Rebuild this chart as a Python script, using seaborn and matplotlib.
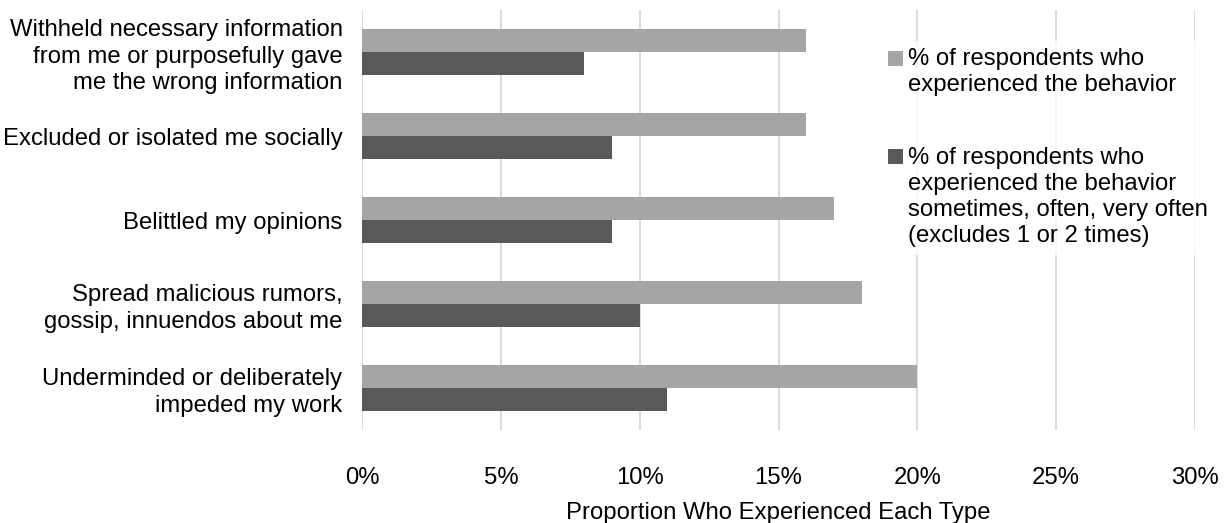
import matplotlib
matplotlib.use("Agg")
import matplotlib.pyplot as plt
import matplotlib.patches as mpatches
from matplotlib.legend_handler import HandlerPatch
import seaborn as sns
import pandas as pd
from matplotlib.ticker import PercentFormatter

categories = [
    "Withheld necessary information\nfrom me or purposefully gave\nme the wrong information",
    "Excluded or isolated me socially",
    "Belittled my opinions",
    "Spread malicious rumors,\ngossip, innuendos about me",
    "Underminded or deliberately\nimpeded my work",
]
series_names = [
    "% of respondents who\nexperienced the behavior",
    "% of respondents who\nexperienced the behavior\nsometimes, often, very often\n(excludes 1 or 2 times)",
]
experienced = [16, 16, 17, 18, 20]
experienced_often = [8, 9, 9, 10, 11]
x_ticks = [0, 5, 10, 15, 20, 25, 30]
x_label = "Proportion Who Experienced Each Type"
colors = ["#A5A5A5", "#595959"]

df = pd.DataFrame({
    "category": categories * 2,
    "series": [series_names[0]] * len(categories) + [series_names[1]] * len(categories),
    "value": experienced + experienced_often,
})

sns.set_theme(style="white")
plt.rcParams["font.family"] = ["Liberation Sans", "DejaVu Sans"]
FS = 17.2
LS = 1.25
DPI = 100

fig = plt.figure(figsize=(12.28, 5.23), dpi=DPI)
ax = fig.add_axes([362 / 1228, 1 - 430 / 523, (1195 - 362) / 1228, 420 / 523])

sns.barplot(data=df, y="category", x="value", hue="series", order=categories,
            hue_order=series_names, palette=colors, linewidth=0,
            width=0.536, saturation=1, orient="h", ax=ax, zorder=2)

ax.set_xlim(0, 30)
ax.set_ylim(4.5, -0.5)
ax.set_xticks(x_ticks)
ax.xaxis.set_major_formatter(PercentFormatter(decimals=0))
ax.grid(axis="x", color="#D9D9D9", linewidth=1.4, zorder=0)
ax.set_axisbelow(True)
for s in ax.spines.values():
    s.set_visible(False)
ax.tick_params(axis="both", length=0, labelsize=FS, colors="black")
ax.tick_params(axis="y", pad=14)
ax.tick_params(axis="x", pad=27)
for t in ax.get_yticklabels():
    t.set_linespacing(LS)
ax.set_ylabel("")
ax.set_xlabel(x_label, fontsize=FS, color="black", labelpad=9)

# legend: square handle aligned with the first text line
line_pt = 27 * 72 / DPI


def make_handler(nlines):
    shift = (nlines - 1) / 2 * line_pt

    def pf(legend, orig_handle, xdescent, ydescent, width, height, fontsize):
        return mpatches.Rectangle((-xdescent, -ydescent + shift), width, height)

    return HandlerPatch(patch_func=pf)


handles, labels = ax.get_legend_handles_labels()
hmap = {h: make_handler(lab.count("\n") + 1) for h, lab in zip(handles, labels)}
leg = ax.legend(handles, labels, loc="upper left", bbox_to_anchor=(881 / 1228, 1 - 41 / 523),
                bbox_transform=fig.transFigure, frameon=True, fontsize=FS,
                handlelength=0.6, handleheight=0.6, handletextpad=0.25,
                labelspacing=2.1, borderaxespad=0, borderpad=0.3, handler_map=hmap)
leg.get_frame().set_facecolor("white")
leg.get_frame().set_edgecolor("white")
leg.get_frame().set_linewidth(0)
for t in leg.get_texts():
    t.set_linespacing(LS)
    t.set_color("black")

fig.savefig("out.png", dpi=DPI, facecolor="white")
